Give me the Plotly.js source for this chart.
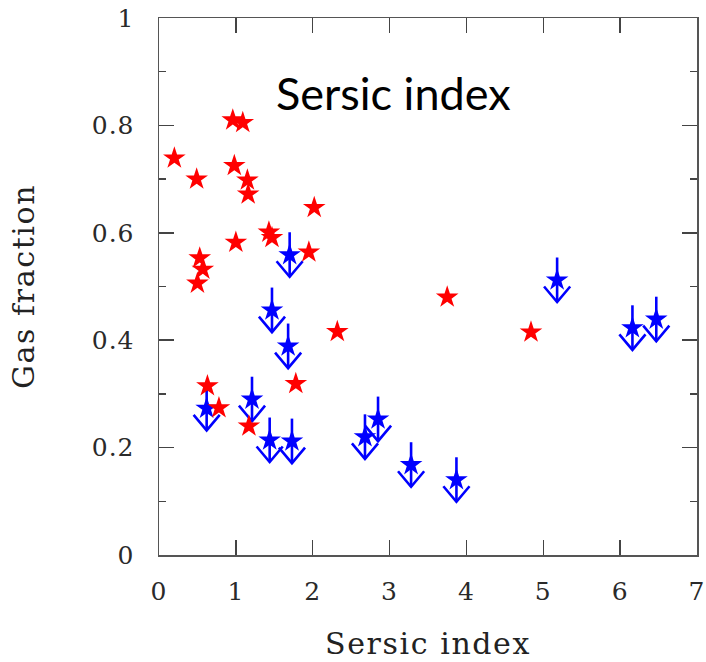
<!DOCTYPE html>
<html>
<head>
<meta charset="utf-8">
<script src="https://cdn.plot.ly/plotly-3.0.1.min.js"></script>
<style>
  body { margin: 0; background: #fff; }
  #chart { width: 706px; height: 662px; }
  .xtitle, .ytitle { letter-spacing: 1.6px; }
  .xtick text, .ytick text { letter-spacing: 1px; }
</style>
</head>
<body>
<div id="chart"></div>
<script>
// Detections (red stars)
const detSersic = [0.20, 0.49, 0.96, 1.09, 0.98, 1.15, 1.16, 2.02, 1.43, 1.47, 1.00, 1.95,
                   0.53, 0.57, 0.50, 3.75, 2.32, 4.84, 0.63, 0.78, 1.17, 1.78];
const detGas    = [0.739, 0.700, 0.810, 0.805, 0.725, 0.698, 0.672, 0.647, 0.601, 0.591, 0.582, 0.564,
                   0.553, 0.532, 0.506, 0.480, 0.416, 0.415, 0.315, 0.274, 0.240, 0.319];

// Upper limits (blue stars with down arrows)
const limSersic = [5.18, 6.16, 6.47, 1.70, 1.47, 1.68, 0.62, 1.21, 1.44, 1.73, 2.68, 2.85, 3.28, 3.87];
const limGas    = [0.512, 0.423, 0.439, 0.559, 0.456, 0.389, 0.273, 0.290, 0.214, 0.212, 0.220, 0.253, 0.168, 0.140];

const xTickVals = [0, 1, 2, 3, 4, 5, 6, 7];
const xTickText = ['0', '1', '2', '3', '4', '5', '6', '7'];
const yTickVals = [0, 0.2, 0.4, 0.6, 0.8, 1];
const yTickText = ['0', '0.2', '0.4', '0.6', '0.8', '1'];

// arrow glyph geometry (in axis units)
const arrowUp = 0.042, arrowDown = 0.041, armDx = 0.17, armDy = 0.029;

const shaftX = [], shaftY = [], headX = [], headY = [];
limSersic.forEach((x, i) => {
  const y = limGas[i];
  shaftX.push(x, x, null);
  shaftY.push(y + arrowUp, y - arrowDown, null);
  headX.push(x - armDx, x, x + armDx, null);
  headY.push(y - arrowDown + armDy, y - arrowDown, y - arrowDown + armDy, null);
});

const blue = '#0000ff', red = '#ff0000';

const traces = [
  { x: shaftX, y: shaftY, mode: 'lines', line: { color: blue, width: 2.6 }, hoverinfo: 'skip', showlegend: false },
  { x: headX, y: headY, mode: 'lines', line: { color: blue, width: 2.6 }, hoverinfo: 'skip', showlegend: false },
  { x: limSersic, y: limGas, mode: 'markers', name: 'upper limit',
    marker: { symbol: 'star', size: 17, color: blue, line: { width: 0 } }, showlegend: false },
  { x: detSersic, y: detGas, mode: 'markers', name: 'detection',
    marker: { symbol: 'star', size: 17, color: red, line: { width: 0 } }, showlegend: false }
];

const tickFont = { family: 'DejaVu Serif', size: 25, color: '#2a2a2a' };
const axisCommon = {
  showline: true, linecolor: '#555', linewidth: 1.5, mirror: 'ticks',
  ticks: 'inside', tickcolor: '#444', tickwidth: 1.5, ticklen: 15,
  showgrid: false, zeroline: false, tickfont: tickFont, tickmode: 'array'
};

const layout = {
  width: 706, height: 662,
  margin: { l: 159, r: 9, t: 18, b: 107 },
  paper_bgcolor: '#fff', plot_bgcolor: '#fff',
  xaxis: Object.assign({}, axisCommon, {
    range: [0, 7], tickvals: xTickVals, ticktext: xTickText, ticklabelstandoff: 13,
    title: { text: 'Sersic index', font: { family: 'DejaVu Serif', size: 30, color: '#222' }, standoff: 28 }
  }),
  yaxis: Object.assign({}, axisCommon, {
    range: [0, 1], tickvals: yTickVals, ticktext: yTickText, ticklabelstandoff: 18,
    minor: { dtick: 0.1, ticks: 'inside', ticklen: 7, tickcolor: '#444', tickwidth: 1.5 },
    title: { text: 'Gas fraction', font: { family: 'DejaVu Serif', size: 30, color: '#222' }, standoff: 48 }
  }),
  annotations: [{
    text: 'Sersic index', xref: 'paper', yref: 'paper', x: 0.435, y: 0.861,
    xanchor: 'center', yanchor: 'middle', showarrow: false,
    font: { family: 'Lato', size: 45, color: '#000' }
  }]
};

Plotly.newPlot('chart', traces, layout, { staticPlot: true, displayModeBar: false });
</script>
</body>
</html>
